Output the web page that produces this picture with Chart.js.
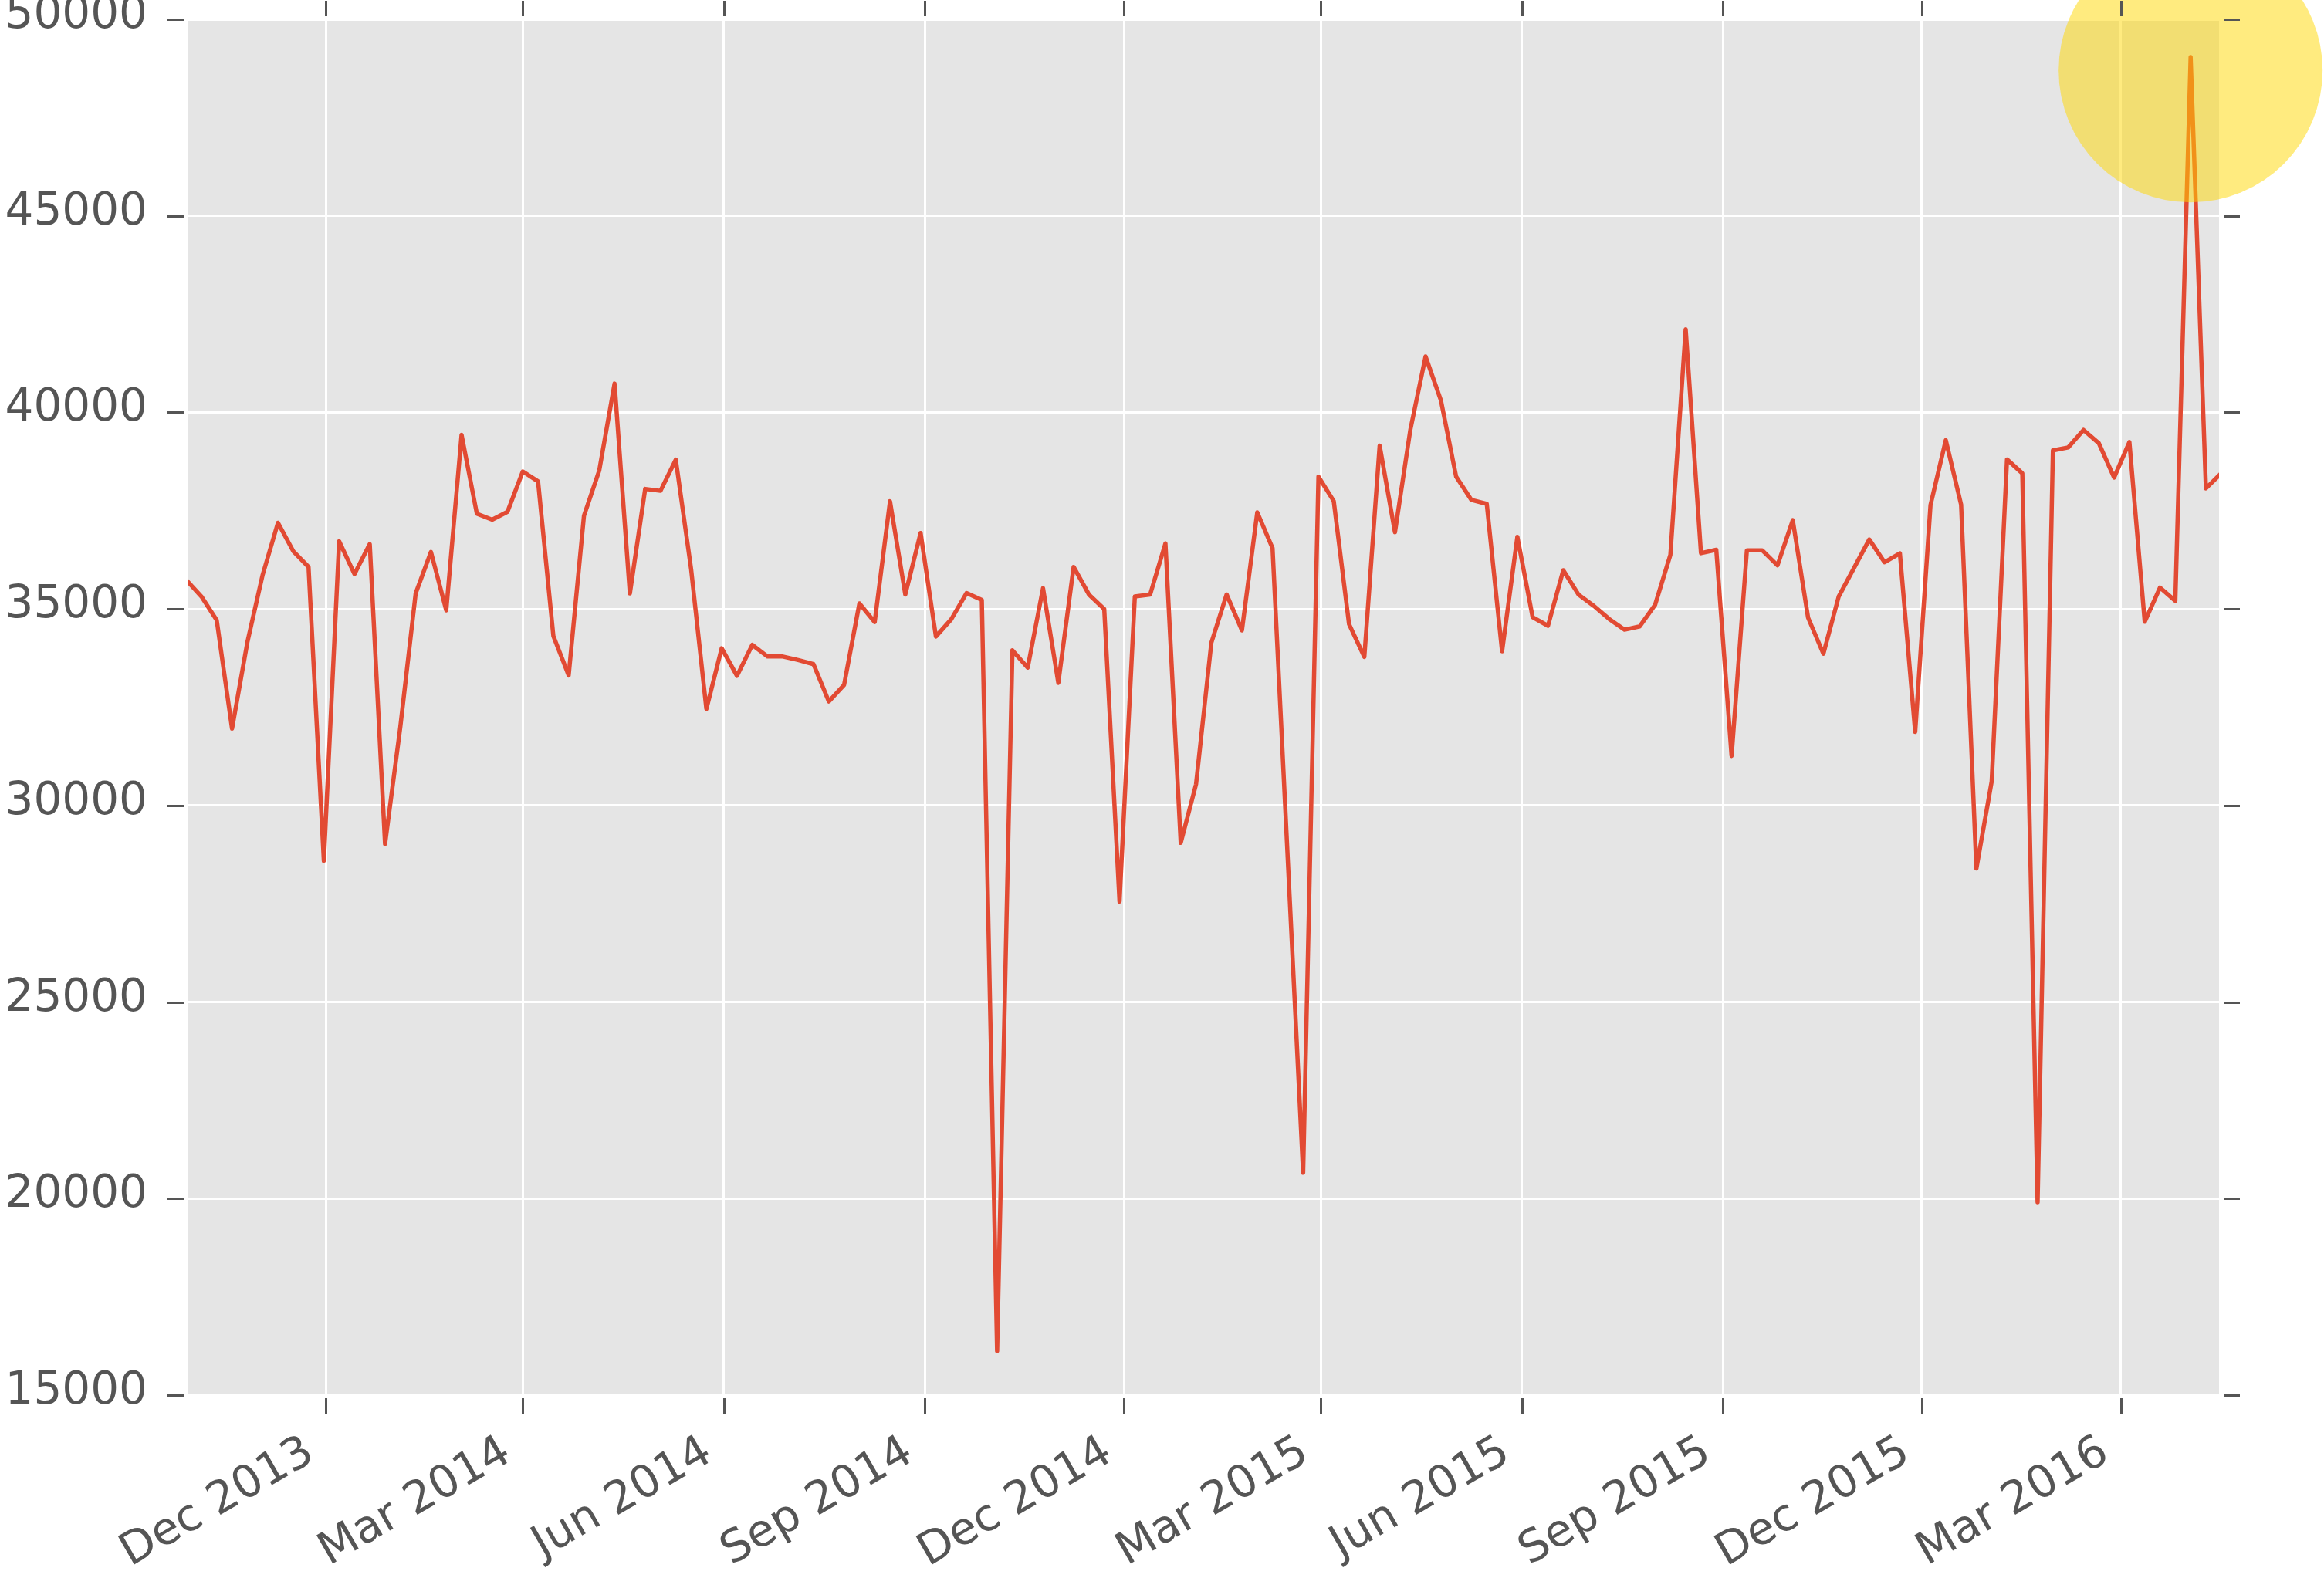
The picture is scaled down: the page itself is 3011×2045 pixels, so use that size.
<!DOCTYPE html>
<html><head><meta charset="utf-8">
<script src="https://cdn.jsdelivr.net/npm/chart.js@4.4.0/dist/chart.umd.min.js"></script>
<style>html,body{margin:0;padding:0;background:#ffffff;overflow:hidden}canvas{display:block}</style>
</head><body>
<canvas id="c" width="3011" height="2045" style="width:3011px;height:2045px"></canvas>
<script>
// Weekly dates (one week, 2015-02-14, is absent in the source)
const weekDates = [
'2013-09-28','2013-10-05','2013-10-12','2013-10-19','2013-10-26','2013-11-02','2013-11-09','2013-11-16','2013-11-23','2013-11-30','2013-12-07','2013-12-14','2013-12-21','2013-12-28',
'2014-01-04','2014-01-11','2014-01-18','2014-01-25','2014-02-01','2014-02-08','2014-02-15','2014-02-22','2014-03-01','2014-03-08','2014-03-15','2014-03-22','2014-03-29','2014-04-05','2014-04-12','2014-04-19','2014-04-26','2014-05-03','2014-05-10','2014-05-17','2014-05-24','2014-05-31','2014-06-07','2014-06-14','2014-06-21','2014-06-28','2014-07-05','2014-07-12','2014-07-19','2014-07-26','2014-08-02','2014-08-09','2014-08-16','2014-08-23','2014-08-30','2014-09-06','2014-09-13','2014-09-20','2014-09-27','2014-10-04','2014-10-11','2014-10-18','2014-10-25','2014-11-01','2014-11-08','2014-11-15','2014-11-22','2014-11-29','2014-12-06','2014-12-13','2014-12-20','2014-12-27',
'2015-01-03','2015-01-10','2015-01-17','2015-01-24','2015-01-31','2015-02-07','2015-02-21','2015-02-28','2015-03-07','2015-03-14','2015-03-21','2015-03-28','2015-04-04','2015-04-11','2015-04-18','2015-04-25','2015-05-02','2015-05-09','2015-05-16','2015-05-23','2015-05-30','2015-06-06','2015-06-13','2015-06-20','2015-06-27','2015-07-04','2015-07-11','2015-07-18','2015-07-25','2015-08-01','2015-08-08','2015-08-15','2015-08-22','2015-08-29','2015-09-05','2015-09-12','2015-09-19','2015-09-26','2015-10-03','2015-10-10','2015-10-17','2015-10-24','2015-10-31','2015-11-07','2015-11-14','2015-11-21','2015-11-28','2015-12-05','2015-12-12','2015-12-19','2015-12-26',
'2016-01-02','2016-01-09','2016-01-16','2016-01-23','2016-01-30','2016-02-06','2016-02-13','2016-02-20','2016-02-27','2016-03-05','2016-03-12','2016-03-19','2016-03-26','2016-04-02','2016-04-09','2016-04-16'
];
const weeklyValues = [
35740,35315,34713,31954,34150,35867,37192,36469,36067,28594,36720,35887,36650,29025,
32005,35395,36449,34964,39428,37422,37271,37471,38496,38244,34312,33309,37371,38525,40733,35395,38053,38004,38797,36018,32456,33999,33297,34086,33789,33789,33700,33594,32646,33069,35139,34666,37739,35367,36931,34298,34736,35403,35228,16126,33946,33507,35527,33120,36069,35367,35000,27556,35315,35367,36667,29048,
30540,34139,35367,34455,37456,36547,20656,38364,37743,34614,33779,39156,36950,39546,41422,40311,38364,37772,37672,33922,36834,34788,34571,35985,35364,35077,34744,34471,34557,35104,36374,42114,36418,36505,31260,36492,36492,36109,37257,34778,33859,35315,36040,36767,36186,36415,31872,
37639,39292,37654,28399,30617,38803,38451,19907,39031,39107,39552,39215,38342,39245,34672,35543,35206,49037,38067,38450
];
const tickDates  = ['2013-12-01','2014-03-01','2014-06-01','2014-09-01','2014-12-01','2015-03-01','2015-06-01','2015-09-01','2015-12-01','2016-03-01'];
const tickLabels = ['Dec 2013','Mar 2014','Jun 2014','Sep 2014','Dec 2014','Mar 2015','Jun 2015','Sep 2015','Dec 2015','Mar 2016'];
const yTickValues = [15000,20000,25000,30000,35000,40000,45000,50000];
const xRange = ['2013-09-29','2016-04-15'];
const yRange = [15000,50000];
const highlightDate = '2016-04-02';
const highlightValue = 48700;

const day = s => { const p = s.split('-').map(Number); return Date.UTC(p[0], p[1]-1, p[2]) / 864e5; };

const bgPlugin = {
  id: 'bg',
  beforeDraw(chart) {
    const {ctx, chartArea: a} = chart;
    ctx.save();
    ctx.fillStyle = '#E5E5E5';
    ctx.fillRect(a.left, a.top + 2, a.right - a.left, a.bottom - a.top - 4);
    ctx.restore();
  }
};
const tickPlugin = {
  id: 'tickmarks',
  afterDraw(chart) {
    const {ctx, chartArea: a, scales} = chart;
    ctx.save();
    ctx.strokeStyle = '#555555';
    ctx.lineWidth = 3;
    ctx.beginPath();
    scales.x.ticks.forEach(t => {
      const px = Math.round(scales.x.getPixelForValue(t.value)) + 0.5;
      ctx.moveTo(px, a.top - 4); ctx.lineTo(px, a.top - 24);
      ctx.moveTo(px, a.bottom + 4); ctx.lineTo(px, a.bottom + 24);
    });
    scales.y.ticks.forEach(t => {
      const py = Math.round(scales.y.getPixelForValue(t.value)) + 0.5;
      ctx.moveTo(a.left - 6, py); ctx.lineTo(a.left - 27, py);
      ctx.moveTo(a.right + 6, py); ctx.lineTo(a.right + 27, py);
    });
    ctx.stroke();
    ctx.restore();
  }
};

Chart.defaults.font.family = "'DejaVu Sans'";
Chart.defaults.font.size = 58;
Chart.defaults.color = '#555555';

new Chart(document.getElementById('c'), {
  type: 'line',
  data: {
    datasets: [
      {
        data: [{x: day(highlightDate), y: highlightValue}],
        showLine: false,
        pointRadius: 171, pointHoverRadius: 171,
        pointBackgroundColor: 'rgba(255,215,0,0.5)',
        pointBorderWidth: 0, borderWidth: 0,
        clip: false, order: 0
      },
      {
        data: weekDates.map((d, i) => ({x: day(d), y: weeklyValues[i]})),
        borderColor: '#E24A33', borderWidth: 5.5,
        pointRadius: 0, tension: 0,
        borderJoinStyle: 'round', borderCapStyle: 'round',
        fill: false, order: 1
      }
    ]
  },
  options: {
    responsive: false, animation: false, events: [], devicePixelRatio: 1,
    layout: {autoPadding: false, padding: {left: 0, right: 136, top: 25, bottom: 0}},
    plugins: {legend: {display: false}, title: {display: false}, tooltip: {enabled: false}},
    scales: {
      x: {
        type: 'linear', min: day(xRange[0]), max: day(xRange[1]),
        afterBuildTicks: s => { s.ticks = tickDates.map(d => ({value: day(d)})); },
        afterFit: s => { s.height = 237; s.paddingLeft = 0; s.paddingRight = 0; },
        grid: {color: '#ffffff', lineWidth: 3, drawTicks: false},
        border: {display: false},
        ticks: {autoSkip: false, maxRotation: 30, minRotation: 30, padding: 40, labelOffset: -20,
                callback: (v, i) => tickLabels[i], color: '#555555', font: {size: 58}}
      },
      y: {
        min: yRange[0], max: yRange[1],
        afterBuildTicks: s => { s.ticks = yTickValues.map(v => ({value: v})); },
        afterFit: s => { s.width = 244; s.paddingTop = 0; s.paddingBottom = 0; },
        grid: {color: c => (c.tick && (c.tick.value === yRange[0] || c.tick.value === yRange[1])) ? 'rgba(0,0,0,0)' : '#ffffff',
               lineWidth: 3, drawTicks: false},
        border: {display: false},
        ticks: {padding: 53, labelOffset: -4, callback: v => String(v), color: '#555555', font: {size: 58}}
      }
    }
  },
  plugins: [bgPlugin, tickPlugin]
});
</script>
</body></html>
